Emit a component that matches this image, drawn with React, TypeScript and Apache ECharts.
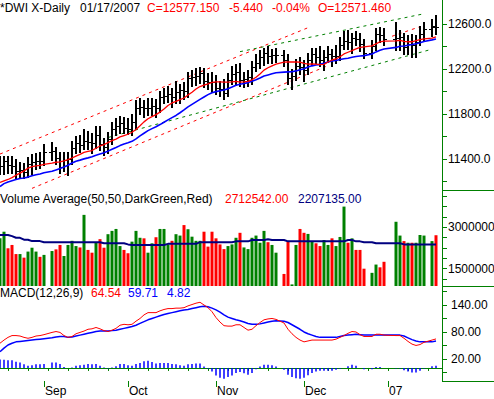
import React, { useEffect, useRef } from 'react';
import * as echarts from 'echarts';

// ---------- DATA ----------
const dates: string[] = [
  '2006-08-17','2006-08-18','2006-08-21','2006-08-22','2006-08-23','2006-08-24','2006-08-25','2006-08-28','2006-08-29','2006-08-30','2006-08-31',
  '2006-09-01','2006-09-04','2006-09-05','2006-09-06','2006-09-07','2006-09-08','2006-09-11','2006-09-12','2006-09-13','2006-09-14','2006-09-15',
  '2006-09-18','2006-09-19','2006-09-20','2006-09-21','2006-09-22','2006-09-25','2006-09-26','2006-09-27','2006-09-28','2006-09-29',
  '2006-10-02','2006-10-03','2006-10-04','2006-10-05','2006-10-06','2006-10-09','2006-10-10','2006-10-11','2006-10-12','2006-10-13',
  '2006-10-16','2006-10-17','2006-10-18','2006-10-19','2006-10-20','2006-10-23','2006-10-24','2006-10-25','2006-10-26','2006-10-27','2006-10-30','2006-10-31',
  '2006-11-01','2006-11-02','2006-11-03','2006-11-06','2006-11-07','2006-11-08','2006-11-09','2006-11-10','2006-11-13','2006-11-14','2006-11-15','2006-11-16','2006-11-17',
  '2006-11-20','2006-11-21','2006-11-22','2006-11-23','2006-11-24','2006-11-27','2006-11-28','2006-11-29','2006-11-30',
  '2006-12-01','2006-12-04','2006-12-05','2006-12-06','2006-12-07','2006-12-08','2006-12-11','2006-12-12','2006-12-13','2006-12-14','2006-12-15',
  '2006-12-18','2006-12-19','2006-12-20','2006-12-21','2006-12-22','2006-12-25','2006-12-26','2006-12-27','2006-12-28','2006-12-29',
  '2007-01-01','2007-01-02','2007-01-03','2007-01-04','2007-01-05','2007-01-08','2007-01-09','2007-01-10','2007-01-11','2007-01-12',
  '2007-01-15','2007-01-16','2007-01-17'
];

const monthLabels: Record<string, string> = {
  '2006-09-01': 'Sep', '2006-10-02': 'Oct', '2006-11-01': 'Nov', '2006-12-01': 'Dec', '2007-01-01': '07'
};

const open: (number | null)[] = [
  11327, 11334, 11381, 11345, 11339, 11297, 11304, 11284, 11352, 11369, 11382, 11381, null,
  11465, 11469, 11406, 11331, 11392, 11396, 11498, 11543, 11528, 11560, 11555, 11541, 11613, 11533, 11508, 11576, 11670, 11689, 11718,
  11679, 11670, 11727, 11850, 11866, 11851, 11857, 11867, 11852, 11947, 11961, 11981, 11950, 11992, 12012, 12002, 12116, 12127, 12134, 12164, 12091, 12087,
  12081, 12032, 12019, 11987, 12106, 12156, 12177, 12103, 12109, 12132, 12219, 12252, 12305, 12342, 12317, 12322, null, 12327, 12280, 12121, 12136, 12227,
  12222, 12195, 12284, 12332, 12310, 12278, 12307, 12329, 12316, 12318, 12416, 12446, 12441, 12472, 12464, 12421, null, 12344, 12407, 12511, 12502,
  null, null, 12463, 12474, 12480, 12398, 12423, 12417, 12442, 12514, null, 12556, 12571.46
];
const high: (number | null)[] = [
  11430, 11430, 11425, 11430, 11400, 11370, 11360, 11415, 11440, 11450, 11460, 11530, null,
  11550, 11510, 11460, 11460, 11460, 11560, 11600, 11610, 11670, 11650, 11630, 11690, 11690, 11590, 11640, 11730, 11760, 11780, 11770,
  11760, 11800, 11920, 11940, 11920, 11940, 11940, 11930, 12000, 12030, 12050, 12030, 12090, 12070, 12080, 12170, 12190, 12210, 12220, 12210, 12160, 12170,
  12150, 12090, 12110, 12160, 12230, 12240, 12250, 12170, 12190, 12270, 12330, 12370, 12390, 12400, 12380, 12390, null, 12370, 12330, 12200, 12290, 12310,
  12280, 12340, 12390, 12390, 12400, 12370, 12400, 12380, 12410, 12480, 12540, 12550, 12520, 12540, 12520, 12470, null, 12460, 12560, 12570, 12560,
  null, null, 12620, 12550, 12520, 12500, 12510, 12500, 12580, 12620, null, 12640, 12680
];
const low: (number | null)[] = [
  11260, 11260, 11270, 11265, 11220, 11225, 11220, 11230, 11260, 11305, 11310, 11340, null,
  11380, 11350, 11270, 11280, 11250, 11350, 11440, 11450, 11480, 11480, 11440, 11490, 11470, 11430, 11440, 11520, 11600, 11620, 11620,
  11610, 11600, 11660, 11790, 11760, 11780, 11780, 11760, 11810, 11890, 11900, 11850, 11890, 11890, 11920, 11940, 12040, 12050, 12070, 12030, 12010, 11990,
  11970, 11950, 11920, 11950, 12060, 12050, 12040, 12030, 12040, 12060, 12170, 12200, 12230, 12240, 12240, 12250, null, 12220, 12060, 12010, 12090, 12150,
  12080, 12150, 12230, 12240, 12220, 12180, 12250, 12220, 12240, 12270, 12370, 12370, 12330, 12400, 12350, 12290, null, 12290, 12360, 12430, 12400,
  null, null, 12360, 12360, 12320, 12320, 12300, 12300, 12400, 12450, null, 12480, 12500
];
const close: (number | null)[] = [
  11334, 11381, 11345, 11339, 11297, 11304, 11284, 11352, 11369, 11382, 11381, 11465, null,
  11469, 11406, 11331, 11392, 11396, 11498, 11543, 11528, 11560, 11555, 11541, 11613, 11533, 11508, 11576, 11670, 11689, 11718, 11679,
  11670, 11727, 11850, 11866, 11851, 11857, 11867, 11852, 11947, 11961, 11981, 11950, 11992, 12012, 12002, 12116, 12127, 12134, 12164, 12091, 12087, 12081,
  12032, 12019, 11987, 12106, 12156, 12177, 12103, 12109, 12132, 12219, 12252, 12305, 12342, 12317, 12322, 12327, null, 12280, 12121, 12136, 12227, 12222,
  12195, 12284, 12332, 12310, 12278, 12307, 12329, 12316, 12318, 12416, 12446, 12441, 12472, 12464, 12421, 12344, null, 12407, 12511, 12502, 12463,
  null, null, 12474, 12480, 12398, 12423, 12417, 12442, 12514, 12556, null, 12583, 12577.15
];

const ma10: (number | null)[] = [
  11191, 11205, 11218, 11234, 11256, 11274, 11294, 11319, 11333, 11339, 11343, 11352, null,
  11364, 11371, 11374, 11383, 11394, 11409, 11426, 11441, 11459, 11468, 11475, 11496, 11516, 11528, 11546, 11563, 11577, 11596, 11608,
  11620, 11638, 11662, 11695, 11730, 11758, 11777, 11794, 11817, 11845, 11876, 11898, 11912, 11927, 11942, 11968, 11994, 12022, 12044, 12057, 12068, 12081,
  12085, 12085, 12084, 12083, 12086, 12090, 12084, 12086, 12090, 12104, 12126, 12155, 12190, 12211, 12228, 12243, null, 12261, 12262, 12262, 12263, 12260,
  12249, 12243, 12245, 12243, 12239, 12241, 12262, 12280, 12289, 12309, 12334, 12349, 12363, 12379, 12393, 12397, null, 12405, 12424, 12442, 12447,
  null, null, 12450, 12454, 12446, 12442, 12442, 12452, 12462, 12467, null, 12475, 12486
];
const ma20: (number | null)[] = [
  11155, 11181, 11196, 11207, 11217, 11227, 11231, 11239, 11251, 11260, 11267, 11278, null,
  11291, 11303, 11315, 11329, 11344, 11364, 11380, 11390, 11401, 11410, 11420, 11433, 11445, 11455, 11470, 11486, 11502, 11519, 11534,
  11544, 11557, 11579, 11606, 11629, 11652, 11670, 11686, 11706, 11727, 11748, 11768, 11787, 11811, 11836, 11863, 11886, 11908, 11930, 11951, 11972, 11989,
  11999, 12006, 12013, 12025, 12040, 12056, 12064, 12071, 12079, 12092, 12105, 12120, 12137, 12147, 12157, 12166, null, 12172, 12174, 12176, 12183, 12193,
  12202, 12217, 12228, 12236, 12241, 12251, 12262, 12271, 12276, 12284, 12291, 12296, 12304, 12311, 12316, 12319, null, 12333, 12352, 12366, 12378,
  null, null, 12392, 12402, 12405, 12411, 12417, 12424, 12433, 12445, null, 12459, 12467
];

// hand-drawn trend channel lines: [category index, price]
const redChannelUpper = [[0, 11444], [77, 12567]];
const redChannelLower = [[8, 11139], [82, 12230]];
const greenChannelUpper = [[60, 12354], [106, 12691]];
const greenChannelLower = [[27, 11591], [108, 12376]];
const redShortLine = [[98, 12491], [105, 12576]];

const volume: (number | null)[] = [
  2600000, 2840000, 2240000, 2360000, 2030000, 2030000, 1900000, 2120000, 2260000, 2120000, 1930000, 2000000, null,
  2140000, 2200000, 2360000, 1960000, 2360000, 2510000, 2320000, 2270000, 3450000, 2180000, 2080000, 2440000, 2570000, 2260000, 2750000, 2870000, 2940000, 2320000, 2180000,
  2060000, 2480000, 2870000, 2620000, 2600000, 2080000, 2420000, 2640000, 2940000, 2940000, 2380000, 2510000, 2750000, 2700000, 3080000, 2930000, 2660000, 2510000, 2510000, 2840000, 2300000, 2840000,
  2600000, 2380000, 2210000, 2320000, 2380000, 2620000, 2800000, 2270000, 2210000, 2620000, 2700000, 2440000, 2870000, 2460000, 2360000, 2080000, null, 1310000, 2480000, 930000, 2360000, 2940000,
  2800000, 2760000, 2480000, 2420000, 2320000, 2540000, 2360000, 2600000, 2320000, 2650000, 3750000, 2440000, 2600000, 2180000, 2180000, 1500000, null, 1350000, 1650000, 1550000, 1750000,
  null, null, 3200000, 2700000, 2500000, 2440000, 2440000, 2440000, 2720000, 2700000, null, 2500000, 2712542
];
const volumeAvg: (number | null)[] = [
  2720000, 2720000, 2720000, 2680000, 2620000, 2620000, 2550000, 2550000, 2500000, 2500000, 2500000, 2460000, null,
  2460000, 2460000, 2460000, 2460000, 2460000, 2460000, 2460000, 2460000, 2460000, 2460000, 2460000, 2460000, 2460000, 2420000, 2420000, 2420000, 2420000, 2420000, 2420000,
  2380000, 2360000, 2360000, 2360000, 2360000, 2360000, 2360000, 2360000, 2360000, 2360000, 2400000, 2400000, 2400000, 2400000, 2400000, 2400000, 2400000, 2400000, 2460000, 2460000, 2460000, 2460000,
  2460000, 2460000, 2460000, 2460000, 2460000, 2490000, 2490000, 2490000, 2490000, 2540000, 2540000, 2540000, 2540000, 2570000, 2540000, 2540000, null, 2540000, 2490000, 2490000, 2490000, 2490000,
  2490000, 2490000, 2490000, 2490000, 2490000, 2490000, 2490000, 2490000, 2490000, 2490000, 2490000, 2540000, 2540000, 2490000, 2490000, 2460000, null, 2460000, 2420000, 2420000, 2420000,
  null, null, 2420000, 2420000, 2380000, 2380000, 2380000, 2380000, 2380000, 2380000, null, 2380000, 2380000
];

const macd: (number | null)[] = [
  55, 62, 68, 72, 72, 71, 68, 66, 68, 71, 72, 74, null,
  79, 81, 79, 72, 68, 70, 76, 79, 82, 86, 87, 90, 87, 83, 81, 84, 88, 95, 97,
  96, 97, 104, 110, 118, 123, 123, 123, 127, 130, 132, 132, 133, 133, 134, 138, 141, 144, 146, 140, 134, 125,
  112, 102, 94, 93, 93, 96, 96, 90, 84, 86, 94, 101, 107, 109, 110, 108, null, 100, 86, 76, 68, 62,
  58, 60, 62, 62, 62, 62, 62, 62, 64, 68, 72, 77, 81, 80, 74, 70, null, 70, 75, 75, 73,
  null, null, 72, 72, 66, 59, 53, 50, 52, 57, null, 62, 64.54
];
const signal: (number | null)[] = [
  36, 44, 51, 55, 58, 59, 60, 61, 62, 63, 64, 65, null,
  67, 69, 70, 70, 68, 69, 71, 73, 75, 77, 79, 81, 82, 82, 82, 83, 84, 86, 88,
  90, 92, 95, 99, 103, 107, 110, 113, 116, 119, 121, 123, 125, 127, 129, 130, 132, 134, 136, 137, 136, 133,
  129, 124, 118, 113, 110, 107, 105, 102, 99, 97, 97, 98, 100, 102, 104, 105, null, 104, 101, 96, 91, 86,
  80, 76, 73, 70, 68, 68, 68, 68, 68, 70, 72, 73, 74, 75, 74, 73, null, 73, 73, 73, 73,
  null, null, 73, 73, 71, 67, 63, 60, 58, 58, null, 58, 59.71
];
const macdHist: (number | null)[] = [
  19, 18, 17, 17, 14, 12, 8, 5, 6, 8, 8, 9, null,
  12, 12, 9, 2, 0, 1, 5, 6, 7, 9, 8, 9, 5, 1, -1, 1, 4, 9, 9,
  6, 5, 9, 11, 15, 16, 13, 10, 11, 11, 11, 9, 8, 6, 5, 8, 9, 10, 10, 3, -2, -8,
  -17, -22, -24, -20, -17, -11, -9, -12, -15, -11, -3, 3, 7, 7, 6, 3, null, -4, -15, -20, -23, -24,
  -22, -16, -11, -8, -6, -6, -6, -6, -4, -2, 0, 4, 7, 5, 0, -3, null, -3, 2, 2, 0,
  null, null, -1, -1, -5, -8, -10, -10, -6, -1, null, 4, 4.83
];

const priceTicks = [11200, 11400, 11600, 11800, 12000, 12200, 12400, 12600];
const priceLabels = [11400, 11800, 12200, 12600];
const volumeTicks = [1125000, 1500000, 1875000, 2250000, 2625000, 3000000, 3375000, 3750000, 4125000];
const volumeLabels = [1500000, 3000000];
const macdTicks = [-10, 20, 50, 80, 110, 140, 170];
const macdLabels = [20, 80, 140];

// ---------- STYLE ----------
const GREEN = '#008000';
const RED = '#ff0000';
const BLUE = '#0000ff';
const NAVY = '#000080';
const FONT = '12px "Liberation Sans", Arial, sans-serif';
const FAMILY = '"Liberation Sans", Arial, sans-serif';

export default function App() {
  const ref = useRef<HTMLDivElement>(null);
  useEffect(() => {
    if (!ref.current) return;
    const chart = echarts.init(ref.current, undefined, { renderer: 'svg' });
    const cats = [...dates, ''];
    const ohlcData: any[] = [];
    dates.forEach((d, i) => {
      if (open[i] != null) ohlcData.push([i, open[i], high[i], low[i], close[i]]);
    });
    let prev: number | null = null;
    const volData = volume.map((v, i) => {
      const c = close[i];
      if (v == null || c == null) return null;
      const up = prev == null ? true : c >= prev;
      prev = c;
      return { value: v, itemStyle: { color: up ? GREEN : RED } };
    });
    const isMonday = (v: string) => v !== '' && new Date(v + 'T00:00:00Z').getUTCDay() === 1;
    const isMonth = (v: string) => monthLabels[v] !== undefined;
    const gridBase = { left: -2, width: 444, containLabel: false, outerBoundsMode: 'none' } as any;
    const yBase = (gi: number) => ({
      type: 'value', gridIndex: gi, position: 'right', splitLine: { show: false },
      axisLine: { show: true, lineStyle: { color: GREEN, width: 1 } },
    });
    const labelStyle = { color: '#000', fontSize: 12, fontFamily: FAMILY };
    const dashed = (data: number[][], color: string) => ({
      type: 'line', xAxisIndex: 0, yAxisIndex: 0, data, symbol: 'none', silent: true, z: 2,
      lineStyle: { color, width: 1, type: [3, 4] },
    });
    const option: any = {
      animation: false,
      backgroundColor: '#ffffff',
      textStyle: { fontFamily: FAMILY },
      grid: [
        { ...gridBase, top: 0, height: 190 },
        { ...gridBase, top: 190, height: 96 },
        { ...gridBase, top: 286, height: 95 },
      ],
      xAxis: [
        { type: 'category', gridIndex: 0, data: cats, show: false },
        { type: 'category', gridIndex: 1, data: cats, show: false },
        {
          type: 'category', gridIndex: 2, data: cats, position: 'bottom',
          axisLine: { show: true, lineStyle: { color: GREEN, width: 1 } },
          axisTick: { show: true, alignWithLabel: true, length: 3, interval: (_i: number, v: string) => isMonday(v), lineStyle: { color: GREEN } },
          axisLabel: { show: false },
        },
        {
          type: 'category', gridIndex: 2, data: cats, position: 'bottom',
          axisLine: { show: false },
          axisTick: { show: true, alignWithLabel: true, length: 6, interval: (_i: number, v: string) => isMonth(v), lineStyle: { color: GREEN } },
          axisLabel: {
            show: true, interval: (_i: number, v: string) => isMonth(v), formatter: (v: string) => monthLabels[v] || '',
            align: 'left', margin: 4, padding: [0, 0, 0, 1], ...labelStyle,
          },
        },
      ],
      yAxis: [
        {
          ...yBase(0), min: 11124.4, max: 12813.3,
          axisTick: { show: true, customValues: priceTicks, length: 5, lineStyle: { color: GREEN } },
          axisLabel: { show: true, customValues: priceLabels, formatter: (v: number) => v.toFixed(1), margin: 6, ...labelStyle },
        },
        {
          ...yBase(1), min: 873000, max: 4351000,
          axisTick: { show: true, customValues: volumeTicks, length: 5, lineStyle: { color: GREEN } },
          axisLabel: { show: true, customValues: volumeLabels, formatter: (v: number) => String(Math.round(v)), margin: 6, ...labelStyle },
        },
        {
          ...yBase(2), min: -29, max: 182.2,
          axisTick: { show: true, customValues: macdTicks, length: 5, lineStyle: { color: GREEN } },
          axisLabel: { show: true, customValues: macdLabels, formatter: (v: number) => v.toFixed(2), margin: 9, ...labelStyle },
        },
      ],
      series: [
        dashed(redChannelUpper, RED),
        dashed(redChannelLower, RED),
        dashed(greenChannelUpper, GREEN),
        dashed(greenChannelLower, GREEN),
        dashed(redShortLine, RED),
        {
          type: 'custom', xAxisIndex: 0, yAxisIndex: 0, data: ohlcData, z: 3, silent: true,
          encode: { x: 0, y: [1, 2, 3, 4] },
          renderItem: (_p: any, api: any) => {
            const i = api.value(0);
            const pO = api.coord([i, api.value(1)]);
            const pH = api.coord([i, api.value(2)]);
            const pL = api.coord([i, api.value(3)]);
            const pC = api.coord([i, api.value(4)]);
            const x = Math.round(pO[0]);
            const yo = Math.round(pO[1]) + 0.5;
            const yc = Math.round(pC[1]) + 0.5;
            return {
              type: 'group',
              children: [
                { type: 'line', shape: { x1: x, y1: Math.round(pH[1]), x2: x, y2: Math.round(pL[1]) }, style: { stroke: '#000', lineWidth: 2 } },
                { type: 'line', shape: { x1: x - 3, y1: yo, x2: x - 1, y2: yo }, style: { stroke: '#000', lineWidth: 1 } },
                { type: 'line', shape: { x1: x + 1, y1: yc, x2: x + 3, y2: yc }, style: { stroke: '#000', lineWidth: 1 } },
              ],
            };
          },
        },
        {
          type: 'line', xAxisIndex: 0, yAxisIndex: 0, data: ma20, symbol: 'none', connectNulls: true, silent: true, z: 4,
          lineStyle: { color: BLUE, width: 1.6 },
        },
        {
          type: 'line', xAxisIndex: 0, yAxisIndex: 0, data: ma10, symbol: 'none', connectNulls: true, silent: true, z: 4,
          lineStyle: { color: RED, width: 1.3 },
        },
        {
          type: 'bar', xAxisIndex: 1, yAxisIndex: 1, data: volData, barWidth: 3, silent: true, clip: true,
        },
        {
          type: 'line', xAxisIndex: 1, yAxisIndex: 1, data: volumeAvg, symbol: 'none', connectNulls: true, silent: true, z: 4,
          lineStyle: { color: NAVY, width: 2 },
        },
        {
          type: 'bar', xAxisIndex: 2, yAxisIndex: 2, data: macdHist, barWidth: 1.5, silent: true,
          itemStyle: { color: BLUE },
        },
        {
          type: 'line', xAxisIndex: 2, yAxisIndex: 2, data: signal, symbol: 'none', connectNulls: true, silent: true, z: 4,
          lineStyle: { color: BLUE, width: 1.5 },
        },
        {
          type: 'line', xAxisIndex: 2, yAxisIndex: 2, data: macd, symbol: 'none', connectNulls: true, silent: true, z: 5,
          lineStyle: { color: RED, width: 1 },
        },
      ],
      graphic: [
        { type: 'text', x: 0, y: 2, style: { text: '*DWI X-Daily', fill: '#000', font: FONT } },
        { type: 'text', x: 80, y: 2, style: { text: '01/17/2007', fill: '#000', font: FONT } },
        { type: 'text', x: 147, y: 2, style: { text: 'C=12577.150', fill: RED, font: FONT } },
        { type: 'text', x: 229, y: 2, style: { text: '-5.440', fill: RED, font: FONT } },
        { type: 'text', x: 272, y: 2, style: { text: '-0.04%', fill: RED, font: FONT } },
        { type: 'text', x: 318, y: 2, style: { text: 'O=12571.460', fill: RED, font: FONT } },
        { type: 'text', x: 0, y: 193, style: { text: 'Volume Average(50,50,DarkGreen,Red)', fill: '#000', font: FONT } },
        { type: 'text', x: 225, y: 193, style: { text: '2712542.00', fill: RED, font: FONT } },
        { type: 'text', x: 298, y: 193, style: { text: '2207135.00', fill: NAVY, font: FONT } },
        { type: 'text', x: 0, y: 287, style: { text: 'MACD(12,26,9)', fill: '#000', font: FONT } },
        { type: 'text', x: 91, y: 287, style: { text: '64.54', fill: RED, font: FONT } },
        { type: 'text', x: 128, y: 287, style: { text: '59.71', fill: BLUE, font: FONT } },
        { type: 'text', x: 167, y: 287, style: { text: '4.82', fill: BLUE, font: FONT } },
        { type: 'line', shape: { x1: 442, y1: 190.5, x2: 494, y2: 190.5 }, style: { stroke: GREEN, lineWidth: 1 } },
        { type: 'line', shape: { x1: 442, y1: 286.5, x2: 494, y2: 286.5 }, style: { stroke: GREEN, lineWidth: 1 } },
        { type: 'line', shape: { x1: 442, y1: 381.5, x2: 494, y2: 381.5 }, style: { stroke: GREEN, lineWidth: 1 } },
      ],
    };
    chart.setOption(option);
    return () => chart.dispose();
  }, []);
  return (
    <div
      ref={ref}
      style={{ position: 'fixed', left: 0, top: 0, width: 494, height: 399, background: '#fff' }}
    />
  );
}
